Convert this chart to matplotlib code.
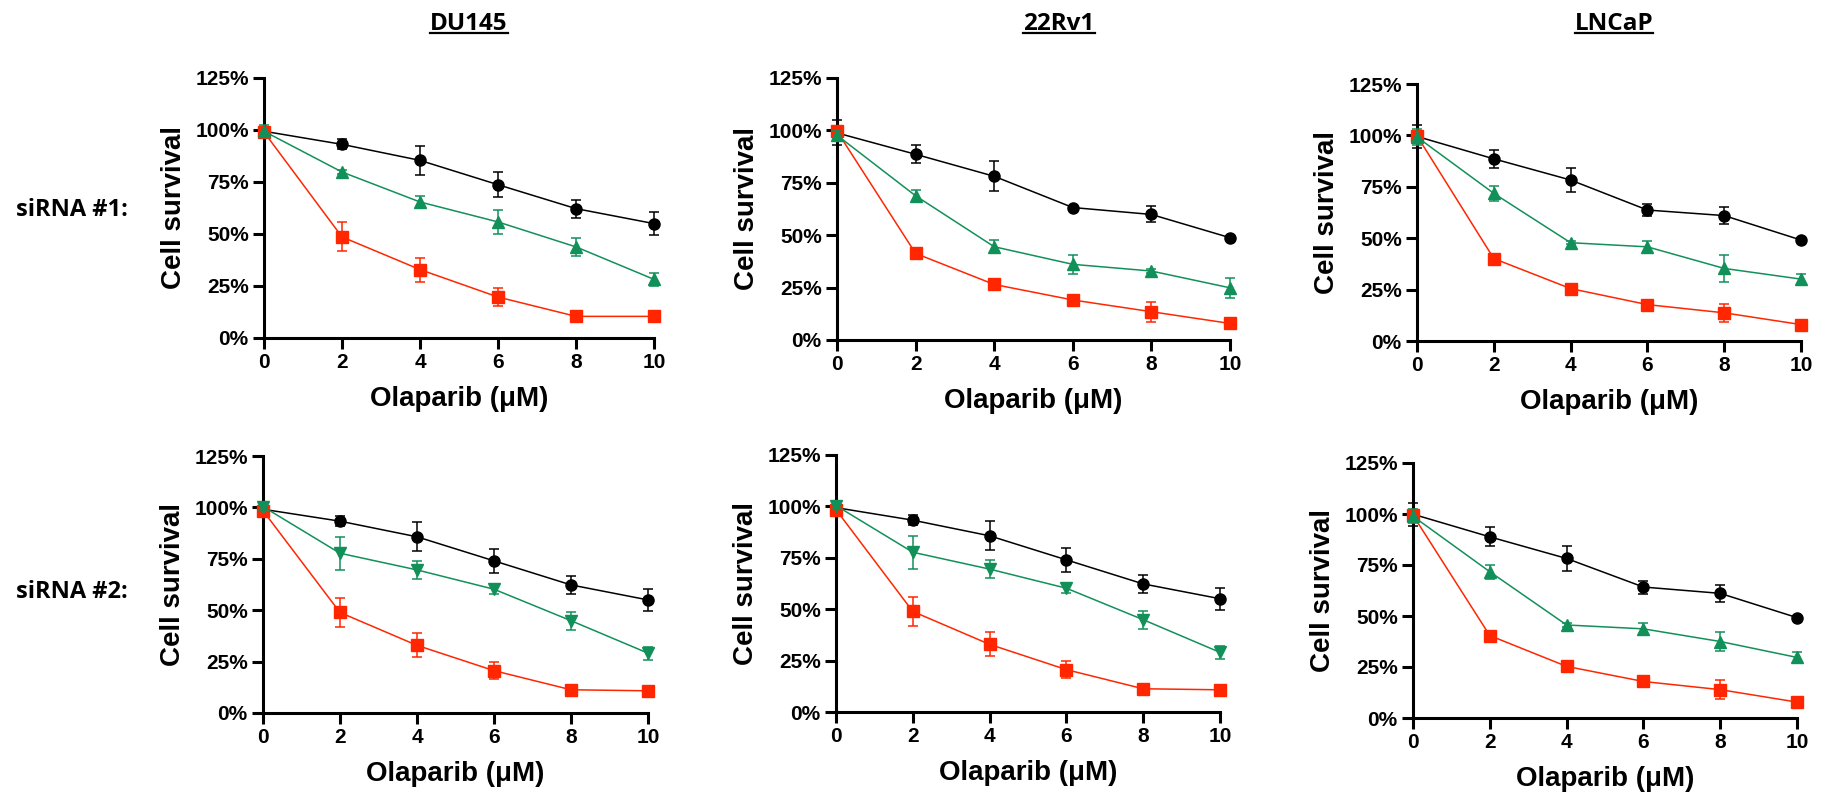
import matplotlib
matplotlib.use("Agg")
import matplotlib.pyplot as plt
from matplotlib.lines import Line2D
from matplotlib.ticker import PercentFormatter

# ---- data (percent survival, mean and error) ----
dose = [0, 2, 4, 6, 8, 10]
cell_lines = ["DU145", "22Rv1", "LNCaP"]
row_labels = ["siRNA #1:", "siRNA #2:"]

# black circles
du145_si1_black = [99.4, 93.1, 85.4, 73.7, 62.2, 55.0]
du145_si1_black_err = [1.0, 2.4, 7.0, 6.0, 4.3, 5.4]
# green triangles
du145_si1_green = [99.4, 79.8, 65.4, 55.8, 43.8, 28.2]
du145_si1_green_err = [2.8, 1.0, 3.0, 5.7, 4.2, 3.1]
# red squares
du145_si1_red = [99.0, 48.6, 32.9, 19.7, 10.4, 10.4]
du145_si1_red_err = [1.0, 7.0, 5.8, 4.3, 0.5, 0.5]

rv1_si1_black = [98.8, 88.6, 78.1, 63.2, 59.9, 48.8]
rv1_si1_black_err = [6.0, 4.3, 7.1, 0.8, 3.8, 0.8]
rv1_si1_green = [97.7, 68.8, 44.5, 36.1, 32.9, 24.9]
rv1_si1_green_err = [2.0, 3.0, 3.2, 4.4, 0.8, 4.8]
rv1_si1_red = [99.6, 41.3, 26.5, 19.1, 13.5, 7.9]
rv1_si1_red_err = [1.0, 0.8, 0.8, 1.5, 4.8, 0.5]

lncap_si1_black = [99.5, 88.6, 78.3, 63.7, 61.0, 49.1]
lncap_si1_black_err = [5.7, 4.5, 5.8, 3.0, 4.1, 0.8]
lncap_si1_green = [99.2, 71.8, 47.8, 45.8, 35.3, 30.1]
lncap_si1_green_err = [3.9, 3.5, 0.8, 2.7, 6.5, 2.7]
lncap_si1_red = [99.8, 40.1, 25.5, 17.7, 13.7, 8.0]
lncap_si1_red_err = [1.0, 0.5, 0.5, 0.8, 4.5, 0.5]

du145_si2_black = [99.1, 93.3, 85.7, 74.0, 62.3, 55.0]
du145_si2_black_err = [1.0, 2.3, 7.0, 6.0, 4.2, 5.4]
du145_si2_green = [100.4, 77.7, 69.6, 60.2, 44.9, 29.1]
du145_si2_green_err = [1.5, 8.0, 4.3, 2.4, 4.3, 3.2]
du145_si2_red = [98.4, 48.9, 32.9, 20.6, 11.3, 10.8]
du145_si2_red_err = [1.0, 7.0, 5.8, 4.2, 0.5, 0.5]

rv1_si2_black = [99.4, 93.3, 85.7, 74.0, 62.3, 55.1]
rv1_si2_black_err = [1.0, 2.3, 7.0, 6.0, 4.3, 5.4]
rv1_si2_green = [100.4, 77.7, 69.5, 60.2, 44.9, 29.0]
rv1_si2_green_err = [1.5, 8.0, 4.3, 2.4, 4.3, 3.0]
rv1_si2_red = [98.4, 48.9, 32.9, 20.6, 11.3, 10.8]
rv1_si2_red_err = [1.0, 7.0, 5.8, 4.2, 0.5, 0.5]

lncap_si2_black = [99.9, 88.8, 78.2, 64.2, 61.1, 49.2]
lncap_si2_black_err = [5.6, 4.6, 5.9, 3.2, 4.1, 0.8]
lncap_si2_green = [98.9, 71.7, 45.6, 43.7, 37.5, 29.7]
lncap_si2_green_err = [3.5, 3.4, 0.8, 3.0, 4.8, 2.8]
lncap_si2_red = [99.4, 40.4, 25.3, 17.9, 13.9, 7.8]
lncap_si2_red_err = [1.0, 0.5, 0.5, 0.8, 4.6, 0.5]

panels = [
    (du145_si1_black, du145_si1_black_err, du145_si1_green, du145_si1_green_err, du145_si1_red, du145_si1_red_err, "^"),
    (rv1_si1_black, rv1_si1_black_err, rv1_si1_green, rv1_si1_green_err, rv1_si1_red, rv1_si1_red_err, "^"),
    (lncap_si1_black, lncap_si1_black_err, lncap_si1_green, lncap_si1_green_err, lncap_si1_red, lncap_si1_red_err, "^"),
    (du145_si2_black, du145_si2_black_err, du145_si2_green, du145_si2_green_err, du145_si2_red, du145_si2_red_err, "v"),
    (rv1_si2_black, rv1_si2_black_err, rv1_si2_green, rv1_si2_green_err, rv1_si2_red, rv1_si2_red_err, "v"),
    (lncap_si2_black, lncap_si2_black_err, lncap_si2_green, lncap_si2_green_err, lncap_si2_red, lncap_si2_red_err, "^"),
]

# ---- layout in pixels: (x at 0, x at 10, y at 125%, y at 0%) ----
W, H = 1826, 808
boxes = [(264, 654, 78, 338), (837, 1230, 78, 340), (1417, 1801, 84, 341),
         (263, 648, 456, 713), (836, 1220, 455, 712), (1413, 1797, 463, 718)]
title_x = [469, 1059, 1614]
title_base = 30
row_y = [210, 592]

BLACK = "#000000"
GREEN = "#12905A"
RED = "#FF2600"

plt.rcParams["font.family"] = ["Liberation Sans", "DejaVu Sans"]
plt.rcParams["font.weight"] = "bold"

fig = plt.figure(figsize=(W / 100, H / 100), dpi=100)


def series(ax, y, err, color, marker, ms, z):
    yf = [v / 100 for v in y]
    ef = [v / 100 for v in err]
    res = ax.errorbar(dose, yf, yerr=ef, color=color, marker=marker, ms=ms, lw=1.1,
                      elinewidth=1.1, capsize=3.4, capthick=1.1, zorder=z)
    arts = [res.lines[0]] + list(res.lines[1]) + list(res.lines[2])
    for art in arts:
        art.set_clip_on(False)


for i, (bk, bke, gr, gre, rd, rde, tri) in enumerate(panels):
    x0, x1, yt, yb = boxes[i]
    ax = fig.add_axes([x0 / W, 1 - yb / H, (x1 - x0) / W, (yb - yt) / H])
    series(ax, bk, bke, BLACK, "o", 8, 3)
    series(ax, rd, rde, RED, "s", 8.5, 4)
    series(ax, gr, gre, GREEN, tri, 8, 5)
    ax.set_xlim(0, 10)
    ax.set_ylim(0, 1.25)
    ax.set_xticks(dose)
    ax.set_yticks([0, 0.25, 0.5, 0.75, 1.0, 1.25])
    ax.yaxis.set_major_formatter(PercentFormatter(1.0, decimals=0))
    for s in ["top", "right"]:
        ax.spines[s].set_visible(False)
    for s in ["left", "bottom"]:
        ax.spines[s].set_linewidth(2.2)
    ax.tick_params(width=2.2, length=8, labelsize=15, pad=3)
    for lab in ax.get_xticklabels() + ax.get_yticklabels():
        lab.set_fontweight("bold")
    ax.set_xlabel("Olaparib (\u03bcM)", fontsize=20, fontweight="bold", labelpad=10)
    ax.set_ylabel("Cell survival", fontsize=20, fontweight="bold", labelpad=6)

titles = []
for name, tx in zip(cell_lines, title_x):
    t = fig.text(tx / W, 1 - title_base / H, name, ha="center", va="baseline",
                 fontsize=17.5, fontweight="bold", family=["Open Sans", "DejaVu Sans"])
    titles.append(t)

for lab, ry in zip(row_labels, row_y):
    fig.text(16 / W, 1 - ry / H, lab, ha="left", va="center",
             fontsize=17, fontweight="bold", family=["Open Sans", "DejaVu Sans"])

# underline the cell line names
fig.canvas.draw()
rend = fig.canvas.get_renderer()
for t in titles:
    bb = t.get_window_extent(renderer=rend)
    yline = 1 - (title_base + 2.5) / H
    fig.add_artist(Line2D([bb.x0 / W, bb.x1 / W], [yline, yline],
                          transform=fig.transFigure, color="black", lw=1.6))

fig.savefig("out.png", dpi=100)
